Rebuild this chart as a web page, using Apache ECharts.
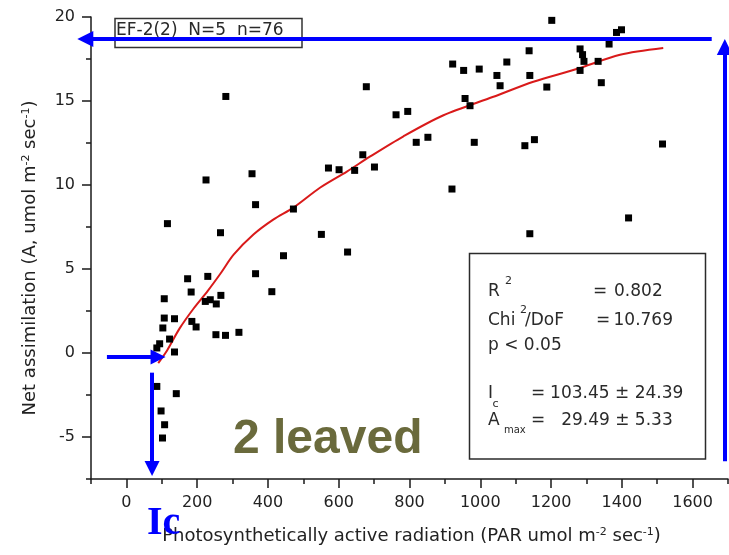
<!DOCTYPE html>
<html>
<head>
<meta charset="utf-8">
<script src="https://cdn.jsdelivr.net/npm/echarts@6/dist/echarts.min.js"></script>
<style>html,body{margin:0;padding:0;background:#fff}#main{width:729px;height:555px}</style>
</head>
<body>
<div id="main"></div>
<script>
// ---- data ----
const xTicks = [0, 200, 400, 600, 800, 1000, 1200, 1400, 1600];
const xMinorTicks = [-100, 100, 300, 500, 700, 900, 1100, 1300, 1500, 1700];
const yTicks = [-5, 0, 5, 10, 15, 20];
const yMinorTicks = [-7.5, -2.5, 2.5, 7.5, 12.5, 17.5];

const parValues = [
  173, 230, 365, 411, 444, 107, 183, 223, 237, 254, 267, 107, 136, 103, 185, 197, 253, 280, 318, 94,
  122, 86, 136, 86, 141, 98, 108, 102,
  281, 225, 355, 365, 116, 266, 472, 551, 625, 571, 601, 645, 668, 678,
  701, 762, 795, 819, 852, 920, 922, 953, 957, 971, 983, 997, 1047, 1056, 1075, 1126, 1153, 1138,
  1140, 1140, 1202, 1188, 1282, 1289, 1293, 1282, 1333, 1342, 1364, 1385, 1399, 1419, 1515
];
const netValues = [
  4.42, 4.56, 4.72, 3.65, 5.79, 3.23, 3.63, 3.07, 3.17, 2.92, 3.43, 2.08, 2.04, 1.49, 1.88, 1.55, 1.09, 1.05, 1.23, 0.55,
  0.83, 0.3, 0.06, -1.99, -2.42, -3.45, -4.27, -5.06,
  15.27, 10.3, 10.67, 8.83, 7.7, 7.16, 8.57, 7.06, 6.01, 11.01, 10.91, 10.87, 11.8, 15.85,
  11.07, 14.18, 14.38, 12.54, 12.84, 9.76, 17.2, 16.82, 15.15, 14.72, 12.54, 16.9, 16.52, 15.91, 17.32, 12.34, 12.7, 17.99,
  16.52, 7.1, 19.8, 15.83, 18.1, 17.76, 17.36, 16.82, 17.36, 16.09, 18.39, 19.08, 19.24, 8.04, 12.44
];

const fitPar = [90, 115, 150, 190, 230, 265, 303, 359, 416, 472, 548, 623, 689, 783, 896, 1037, 1150, 1272, 1395, 1517];
const fitNet = [-0.6, 0.15, 1.45, 2.65, 3.7, 4.7, 5.85, 7.05, 7.95, 8.65, 9.85, 10.8, 11.7, 12.9, 14.15, 15.25, 16.15, 16.9, 17.75, 18.15];

// annotation arrows (data coordinates: start, end)
const asatArrow = [[1654, 18.69], [-116, 18.69]];
const asatRise = [[1691, -6.45], [1691, 18.21]];
const icArrowIn = [[-55, -0.24], [89.5, -0.24]];
const icArrowDown = [[72.5, -1.17], [72.5, -6.87]];

// ---- chart ----
const points = parValues.map((x, i) => [x, netValues[i]]);
const fitLine = fitPar.map((x, i) => [x, fitNet[i]]);

const axisColor = '#1a1a1a';
const FONT = 'DejaVu Sans';
const txt = '#2a2a2a';

function T(x, y, text, size, extra) {
  return {
    type: 'text', x: x, y: y, z: 5,
    style: Object.assign({text: text, fontSize: size, fontFamily: FONT, fill: txt, verticalAlign: 'middle', align: 'left'}, extra || {})
  };
}
const plain = v => String(v);

const chart = echarts.init(document.getElementById('main'), null, {renderer: 'canvas'});
chart.setOption({
  animation: false,
  backgroundColor: '#ffffff',
  grid: {left: 91, right: 1, top: 17, bottom: 76},
  xAxis: [{
    type: 'value', min: -100, max: 1700, position: 'bottom',
    axisLine: {show: true, onZero: false, lineStyle: {color: axisColor, width: 1.5}},
    axisTick: {show: true, length: 9, customValues: xTicks, lineStyle: {color: axisColor, width: 1.5}},
    axisLabel: {customValues: xTicks, formatter: plain, margin: 16, fontSize: 16, fontFamily: FONT, color: '#222'},
    splitLine: {show: false},
    name: 'Photosynthetically active radiation (PAR umol m{sup|-2} sec{sup|-1})',
    nameLocation: 'middle', nameGap: 48,
    nameTextStyle: {fontSize: 18, fontFamily: FONT, color: '#222', padding: [0, 0, 0, 4],
      rich: {sup: {fontSize: 11, fontFamily: FONT, color: '#222', verticalAlign: 'top'}}}
  }, {
    type: 'value', min: -100, max: 1700, position: 'bottom', gridIndex: 0,
    axisLine: {show: false, onZero: false},
    axisTick: {show: true, length: 5, customValues: xMinorTicks, lineStyle: {color: axisColor, width: 1.5}},
    axisLabel: {show: false}, splitLine: {show: false}
  }],
  yAxis: [{
    type: 'value', min: -7.5, max: 20, position: 'left',
    axisLine: {show: true, onZero: false, lineStyle: {color: axisColor, width: 1.5}},
    axisTick: {show: true, length: 9, customValues: yTicks, lineStyle: {color: axisColor, width: 1.5}},
    axisLabel: {customValues: yTicks, formatter: plain, margin: 16, fontSize: 16, fontFamily: FONT, color: '#222'},
    splitLine: {show: false},
    name: 'Net assimilation (A, umol m{sup|-2} sec{sup|-1})',
    nameLocation: 'middle', nameGap: 52, nameRotate: 90,
    nameTextStyle: {fontSize: 18, fontFamily: FONT, color: '#222', padding: [0, 20, 0, 0],
      rich: {sup: {fontSize: 11, fontFamily: FONT, color: '#222', verticalAlign: 'top'}}}
  }, {
    type: 'value', min: -7.5, max: 20, position: 'left', gridIndex: 0,
    axisLine: {show: false, onZero: false},
    axisTick: {show: true, length: 5, customValues: yMinorTicks, lineStyle: {color: axisColor, width: 1.5}},
    axisLabel: {show: false}, splitLine: {show: false}
  }],
  series: [
    {
      type: 'line', data: fitLine, smooth: 0.3, showSymbol: false, z: 3,
      lineStyle: {color: '#d91a1a', width: 2}
    },
    {
      type: 'scatter', data: points, symbol: 'rect', symbolSize: 7, z: 4,
      itemStyle: {color: '#000', opacity: 1}
    },
    {
      type: 'lines', coordinateSystem: 'cartesian2d', clip: false, z: 10,
      symbol: ['none', 'triangle'], symbolSize: 16,
      lineStyle: {color: '#0000ff', width: 4, opacity: 1, curveness: 0},
      data: [
        {coords: asatArrow},
        {coords: asatRise},
        {coords: icArrowIn, symbolSize: 15},
        {coords: icArrowDown, symbolSize: 15}
      ]
    }
  ],
  graphic: [
    {type: 'rect', z: 1, shape: {x: 115, y: 18.5, width: 187, height: 29}, style: {fill: '#fff', stroke: '#333', lineWidth: 1.5}},
    T(116, 31, 'EF-2(2)  N=5  n=76', 17),
    {type: 'rect', z: 1, shape: {x: 469.5, y: 253.5, width: 236, height: 205.5}, style: {fill: '#fff', stroke: '#2b2b2b', lineWidth: 1.5}},
    T(488, 291.2, 'R', 17),
    T(505, 281, '2', 11),
    T(593, 291.2, '=', 17),
    T(662.7, 291.2, '0.802', 17, {align: 'right'}),
    T(488, 320.6, 'Chi', 17),
    T(520, 310, '2', 11),
    T(525, 320.6, '/DoF', 17),
    T(596, 320.6, '=', 17),
    T(673, 320.6, '10.769', 17, {align: 'right'}),
    T(488, 345.6, 'p < 0.05', 17),
    T(488, 393.9, 'I', 17),
    T(492.5, 404, 'c', 11),
    T(531, 393.9, '=', 17),
    T(683.3, 393.9, '103.45 ± 24.39', 17, {align: 'right'}),
    T(488, 420.6, 'A', 17),
    T(504, 430.5, 'max', 10),
    T(531, 420.6, '=', 17),
    T(672.7, 420.6, '29.49 ± 5.33', 17, {align: 'right'}),
    {type: 'text', z: 5, x: 233, y: 440, style: {text: '2 leaved', fontSize: 48, fontWeight: 'bold', fontFamily: 'Liberation Sans', fill: '#6a6a3c', verticalAlign: 'middle'}},
    {type: 'text', z: 5, x: 147, y: 524, style: {text: 'Ic', fontSize: 40, fontWeight: 'bold', fontFamily: 'Liberation Serif', fill: '#0000ff', verticalAlign: 'middle'}}
  ]
});
</script>
</body>
</html>
